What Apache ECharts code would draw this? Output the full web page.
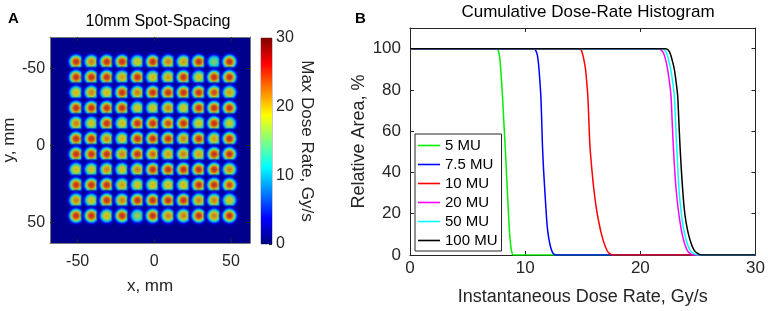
<!DOCTYPE html>
<html>
<head>
<meta charset="utf-8">
<script src="https://cdn.jsdelivr.net/npm/echarts@6.0.0/dist/echarts.min.js"></script>
<style>
  html, body { margin: 0; padding: 0; background: #fff; }
  #chart { width: 768px; height: 311px; }
</style>
</head>
<body>
<div id="chart"></div>
<script>
// ---- panel A: spot map (positions in mm, peak dose rate in Gy/s) ----
var spotX = [-51, -41, -31, -21, -11, -1, 9, 19, 29, 39, 49];
var spotY = [-54.5, -44.5, -34.5, -24.5, -14.5, -4.5, 5.5, 15.5, 25.5, 35.5, 45.5];
var spotPeaks = [
    [25, 22, 25, 25, 19.5, 25, 22, 21, 25, 16, 25],
    [25, 25, 25, 21, 25, 20, 21, 25, 19.5, 25, 25],
    [20, 22, 20, 25, 22, 25, 25, 25, 25, 24, 21],
    [25, 25, 25, 25, 19.5, 19.5, 22, 19.5, 25, 25, 25],
    [22, 19.5, 25, 20, 25, 25, 24, 25, 19.5, 25, 19],
    [25, 25, 22, 20, 25, 25, 25, 22, 25, 21, 25],
    [25, 25, 25, 22, 25, 23, 21, 22, 21, 25, 25],
    [20, 19.5, 22, 19.5, 22, 25, 25, 25, 25, 25, 22],
    [25, 25, 25, 21, 19.5, 20, 20, 20, 25, 25, 24],
    [22, 19.5, 25, 22, 25, 25, 25, 25, 22, 22, 19.5],
    [25, 25, 20, 25, 17, 25, 22, 22, 25, 22, 25]
];
var posTicks = [-50, 0, 50];
var colorTicks = [0, 10, 20, 30];

// ---- panel B: cumulative dose-rate histogram ----
var doseTicks = [0, 10, 20, 30];
var areaTicks = [0, 20, 40, 60, 80, 100];
var curveNames = ['5 MU', '7.5 MU', '10 MU', '20 MU', '50 MU', '100 MU'];
var mu5 = [[0, 100], [7.5, 100], [7.62, 99.5], [7.72, 98], [7.8, 95], [7.88, 90], [7.95, 84], [8.05, 75], [8.15, 64], [8.28, 51],
    [8.38, 39], [8.48, 28], [8.56, 19], [8.63, 12], [8.7, 7], [8.78, 3], [8.86, 1], [8.95, 0], [30, 0]];
var mu7_5 = [[0, 100], [10.75, 100], [10.9, 99.3], [11.05, 97], [11.13, 94], [11.2, 90], [11.28, 84], [11.36, 77], [11.43, 66], [11.5, 53],
    [11.6, 41], [11.73, 29], [11.83, 20], [11.93, 13], [12.05, 8], [12.2, 4], [12.35, 1.5], [12.5, 0.4], [12.7, 0], [30, 0]];
var mu10 = [[0, 100], [14.7, 100], [14.88, 99.2], [15.0, 97], [15.12, 94], [15.24, 90], [15.34, 84], [15.44, 77], [15.53, 65], [15.62, 53],
    [15.78, 42], [15.96, 32], [16.17, 23], [16.39, 16], [16.65, 9.5], [16.9, 5], [17.1, 2.3], [17.3, 0.8], [17.6, 0], [30, 0]];
var mu20 = [[0, 100], [21.6, 100], [21.82, 99.3], [22.0, 98], [22.15, 95.5], [22.3, 92], [22.5, 85], [22.66, 77], [22.76, 65], [22.86, 53],
    [22.97, 42], [23.1, 32], [23.27, 23], [23.44, 16], [23.65, 9.5], [23.87, 5], [24.05, 2.5], [24.25, 1], [24.6, 0], [30, 0]];
var mu50 = [[0, 100], [21.9, 100], [22.12, 99.3], [22.3, 97.5], [22.45, 94.5], [22.6, 91], [22.8, 84], [22.95, 77], [23.05, 65], [23.15, 53],
    [23.25, 42], [23.35, 32], [23.5, 23], [23.65, 16], [23.87, 9.5], [24.1, 5], [24.3, 2.5], [24.55, 1], [25.0, 0], [30, 0]];
var mu100 = [[0, 100], [22.2, 100], [22.42, 99.3], [22.6, 97.5], [22.78, 94], [22.95, 90], [23.1, 84], [23.24, 77], [23.34, 65], [23.44, 53],
    [23.55, 42], [23.67, 32], [23.8, 23], [23.96, 16], [24.2, 9.5], [24.45, 5], [24.65, 2.5], [24.9, 1], [25.3, 0], [30, 0]];
var curves = [mu5, mu7_5, mu10, mu20, mu50, mu100];
var curveColors = ['#00ee00', '#0000ff', '#ff0000', '#ff00ff', '#00ffff', '#000000'];

// jet colormap, t in 0..1
function jet(t, a) {
    t = Math.max(0, Math.min(1, t));
    var c = function (v) { return Math.round(255 * Math.max(0, Math.min(1, v))); };
    return 'rgba(' + c(Math.min(4 * t - 1.5, -4 * t + 4.5)) + ',' + c(Math.min(4 * t - 0.5, -4 * t + 3.5)) + ',' +
        c(Math.min(4 * t + 0.5, -4 * t + 2.5)) + ',' + (a === undefined ? 1 : a) + ')';
}

// radial fall-off of a spot (fraction of radius, fraction of peak)
var spotProfile = [[0, 1], [0.217, 0.93], [0.348, 0.8], [0.435, 0.65], [0.522, 0.47], [0.609, 0.3], [0.674, 0.2], [0.739, 0.11], [0.826, 0.05], [1, 0]];

var spotData = [];
spotY.forEach(function (y, j) {
    spotX.forEach(function (x, i) {
        var peak = spotPeaks[j][i];
        var stops = spotProfile.map(function (s, k) {
            var last = k === spotProfile.length - 1;
            return { offset: s[0], color: jet(peak * s[1] / 30, last ? 0 : 1) };
        });
        spotData.push({
            value: [x, y, peak],
            itemStyle: { color: new echarts.graphic.RadialGradient(0.5, 0.5, 0.5, stops) }
        });
    });
});

var jetStops = [0, 0.125, 0.375, 0.625, 0.875, 1].map(function (t) {
    return { offset: t, color: jet(t) };
});

var axisCol = '#262626';
var fontFam = '"Liberation Sans", Arial, sans-serif';

function boxAxis(extra) {
    var base = {
        axisLine: { show: true, onZero: false, lineStyle: { color: axisCol, width: 1 } },
        axisTick: { show: true, inside: true, length: 4, lineStyle: { color: axisCol } },
        axisLabel: { color: axisCol, fontSize: 16, fontFamily: fontFam },
        splitLine: { show: false },
        nameTextStyle: { color: axisCol, fontSize: 17, fontFamily: fontFam }
    };
    return Object.assign(base, extra);
}
var frameLine = { show: true, onZero: false, lineStyle: { color: '#777' } };

var myChart = echarts.init(document.getElementById('chart'), null, { renderer: 'canvas' });

var option = {
    animation: false,
    backgroundColor: '#fff',
    textStyle: { fontFamily: fontFam },
    title: [
        { text: 'A', left: 3, top: 6, textStyle: { fontSize: 15, fontWeight: 'bold', color: '#000' } },
        { text: '10mm Spot-Spacing', left: 153, textAlign: 'center', top: 9, textStyle: { fontSize: 16, fontWeight: 'normal', color: '#000' } },
        { text: 'B', left: 350, top: 6, textStyle: { fontSize: 15, fontWeight: 'bold', color: '#000' } },
        { text: 'Cumulative Dose-Rate Histogram', left: 583, textAlign: 'center', top: -1, textStyle: { fontSize: 17, fontWeight: 'normal', color: '#000' } }
    ],
    grid: [
        { left: 48, top: 37, width: 202, height: 206, show: true, backgroundColor: '#00008c', borderWidth: 0 },
        { left: 261, top: 38, width: 11, height: 206, show: true, borderColor: '#999', borderWidth: 1 },
        { left: 410, top: 28, width: 348, height: 230 }
    ],
    legend: {
        data: curveNames,
        orient: 'vertical',
        left: 415, top: 134,
        icon: 'rect',
        itemWidth: 22, itemHeight: 1.6, itemGap: 4,
        padding: [4, 4, 3, 3],
        borderColor: axisCol, borderWidth: 1,
        backgroundColor: '#fff',
        textStyle: { fontSize: 15, color: '#000', lineHeight: 15, fontFamily: fontFam }
    },
    xAxis: [
        boxAxis({ gridIndex: 0, type: 'value', position: 'bottom', min: -68, max: 62.4,
            axisLine: frameLine,
            axisLabel: { color: axisCol, fontSize: 16, margin: 11, fontFamily: fontFam, customValues: posTicks },
            axisTick: { show: true, inside: true, length: 4, lineStyle: { color: axisCol }, customValues: posTicks },
            name: 'x, mm', nameLocation: 'middle', nameGap: 35 }),
        boxAxis({ gridIndex: 0, type: 'value', position: 'top', min: -68, max: 62.4,
            axisLine: frameLine,
            axisLabel: { show: false },
            axisTick: { show: true, inside: true, length: 4, lineStyle: { color: axisCol }, customValues: posTicks } }),
        { gridIndex: 1, type: 'category', data: ['cb'], show: false },
        boxAxis({ gridIndex: 2, type: 'value', position: 'bottom', min: 0, max: 30, interval: 10,
            axisLabel: { color: axisCol, fontSize: 17, margin: 5, fontFamily: fontFam, customValues: doseTicks },
            name: 'Instantaneous Dose Rate, Gy/s', nameLocation: 'middle', nameGap: 33,
            nameTextStyle: { color: axisCol, fontSize: 18, fontFamily: fontFam } }),
        boxAxis({ gridIndex: 2, type: 'value', position: 'top', min: 0, max: 30, interval: 10,
            axisLabel: { show: false } })
    ],
    yAxis: [
        boxAxis({ gridIndex: 0, type: 'value', position: 'left', inverse: true, min: -70.6, max: 63.2,
            axisLine: frameLine,
            axisLabel: { color: axisCol, fontSize: 16, margin: 5, fontFamily: fontFam, customValues: posTicks },
            axisTick: { show: true, inside: true, length: 4, lineStyle: { color: axisCol }, customValues: posTicks },
            name: 'y, mm', nameLocation: 'middle', nameGap: 32, nameRotate: 90 }),
        boxAxis({ gridIndex: 0, type: 'value', position: 'right', inverse: true, min: -70.6, max: 63.2,
            axisLine: frameLine,
            axisLabel: { show: false },
            axisTick: { show: true, inside: true, length: 4, lineStyle: { color: axisCol }, customValues: posTicks } }),
        boxAxis({ gridIndex: 1, type: 'value', position: 'right', min: 0, max: 30, interval: 10,
            axisLine: { show: false },
            axisTick: { show: true, inside: true, length: 3, lineStyle: { color: axisCol }, customValues: colorTicks },
            axisLabel: { color: axisCol, fontSize: 16, margin: 4, fontFamily: fontFam, customValues: colorTicks },
            name: 'Max Dose Rate, Gy/s', nameLocation: 'middle', nameGap: 24, nameRotate: -90 }),
        boxAxis({ gridIndex: 2, type: 'value', position: 'left', min: 0, max: 110,
            axisLabel: { color: axisCol, fontSize: 17, margin: 9, fontFamily: fontFam, customValues: areaTicks },
            axisTick: { show: true, inside: true, length: 4, lineStyle: { color: axisCol }, customValues: areaTicks },
            name: 'Relative Area, %', nameLocation: 'middle', nameGap: 42, nameRotate: 90,
            nameTextStyle: { color: axisCol, fontSize: 18, fontFamily: fontFam } }),
        boxAxis({ gridIndex: 2, type: 'value', position: 'right', min: 0, max: 110,
            axisLabel: { show: false },
            axisTick: { show: true, inside: true, length: 4, lineStyle: { color: axisCol }, customValues: areaTicks } })
    ],
    series: [
        {
            type: 'scatter',
            xAxisIndex: 0, yAxisIndex: 0,
            symbol: 'circle',
            symbolSize: 23,
            silent: true,
            data: spotData
        },
        {
            type: 'bar',
            xAxisIndex: 2, yAxisIndex: 2,
            barWidth: '100%',
            silent: true,
            itemStyle: { color: new echarts.graphic.LinearGradient(0, 1, 0, 0, jetStops) },
            data: [30]
        }
    ].concat(curves.map(function (pts, k) {
        return {
            name: curveNames[k],
            type: 'line',
            xAxisIndex: 3, yAxisIndex: 3,
            symbol: 'none',
            showSymbol: false,
            smooth: 0.3,
            lineStyle: { color: curveColors[k], width: 1.5 },
            itemStyle: { color: curveColors[k] },
            data: pts
        };
    }))
};

myChart.setOption(option);
</script>
</body>
</html>
